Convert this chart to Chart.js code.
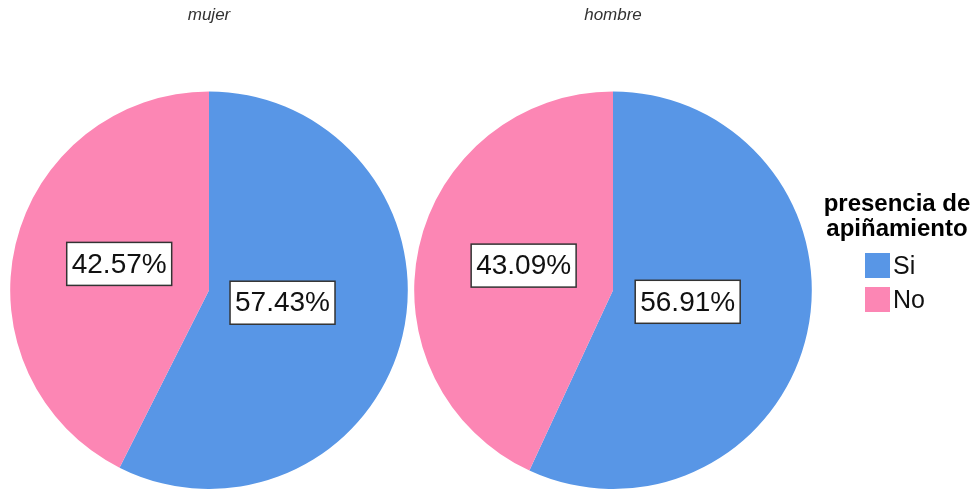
<!DOCTYPE html>
<html>
<head>
<meta charset="utf-8">
<script src="https://cdn.jsdelivr.net/npm/chart.js@4.4.0/dist/chart.umd.min.js"></script>
<style>
  body { margin: 0; background: #fff; width: 974px; height: 489px; overflow: hidden; position: relative; font-family: "Liberation Sans", Arial, sans-serif; }
  .pie { position: absolute; top: 0; width: 418px; height: 489px; }
  #legend { position: absolute; left: 812px; top: 190px; width: 170px; }
  #legend .ttl { font-weight: bold; font-size: 24px; line-height: 25px; text-align: center; color: #000; }
  #legend .item { display: flex; align-items: center; height: 34px; margin-left: 53px; font-size: 25px; color: #111; }
  #legend .sw { width: 25px; height: 25px; margin-right: 3px; }
</style>
</head>
<body>
<div class="pie" style="left:0px"><canvas id="pieMujer"></canvas></div>
<div class="pie" style="left:404px"><canvas id="pieHombre"></canvas></div>
<div id="legend"></div>
<script>
const categories = ['Si', 'No'];
const colors = ['rgb(88, 150, 230)', 'rgb(252, 134, 180)'];
const mujer = [57.43, 42.57];
const hombre = [56.91, 43.09];
const legendTitle = ['presencia de', 'apiñamiento'];

// boxed percentage labels, placed at the centroid of each slice
const boxLabels = {
  id: 'boxLabels',
  afterDatasetsDraw(chart) {
    const ctx = chart.ctx;
    const meta = chart.getDatasetMeta(0);
    const values = chart.data.datasets[0].data;
    ctx.save();
    ctx.font = '28px "Liberation Sans", Arial, sans-serif';
    ctx.textAlign = 'center';
    ctx.textBaseline = 'middle';
    meta.data.forEach((arc, i) => {
      const p = arc.getProps(['x', 'y', 'startAngle', 'endAngle', 'outerRadius'], true);
      const a = p.endAngle - p.startAngle;
      const mid = (p.startAngle + p.endAngle) / 2;
      const r = 4 * p.outerRadius * Math.sin(a / 2) / (3 * a);
      const cx = p.x + Math.cos(mid) * r + 4;
      const cy = p.y + Math.sin(mid) * r - 4;
      const txt = values[i].toFixed(2) + '%';
      const w = ctx.measureText(txt).width + 10;
      const h = 43;
      ctx.fillStyle = '#fff';
      ctx.fillRect(cx - w / 2, cy - h / 2, w, h);
      ctx.strokeStyle = '#333';
      ctx.lineWidth = 1.5;
      ctx.strokeRect(cx - w / 2, cy - h / 2, w, h);
      ctx.fillStyle = '#111';
      ctx.fillText(txt, cx, cy + 1);
    });
    ctx.restore();
  }
};

function makePie(id, title, values) {
  return new Chart(document.getElementById(id).getContext('2d'), {
    type: 'pie',
    data: {
      labels: categories,
      datasets: [{
        data: values,
        backgroundColor: colors,
        borderWidth: 0
      }]
    },
    options: {
      responsive: true,
      maintainAspectRatio: false,
      animation: false,
      events: [],
      layout: { padding: 0 },
      plugins: {
        legend: { display: false },
        tooltip: { enabled: false },
        title: {
          display: true,
          text: title,
          color: '#333',
          font: { family: '"Liberation Sans", Arial, sans-serif', size: 17, style: 'italic', weight: 'normal', lineHeight: 1.2 },
          padding: { top: 5, bottom: 66 }
        }
      }
    },
    plugins: [boxLabels]
  });
}

makePie('pieMujer', 'mujer', mujer);
makePie('pieHombre', 'hombre', hombre);

// legend on the right
let html = '<div class="ttl">' + legendTitle.join('<br>') + '</div><div style="height:8px"></div>';
categories.forEach((c, i) => {
  html += '<div class="item"><span class="sw" style="background:' + colors[i] + '"></span>' + c + '</div>';
});
document.getElementById('legend').innerHTML = html;
</script>
</body>
</html>
